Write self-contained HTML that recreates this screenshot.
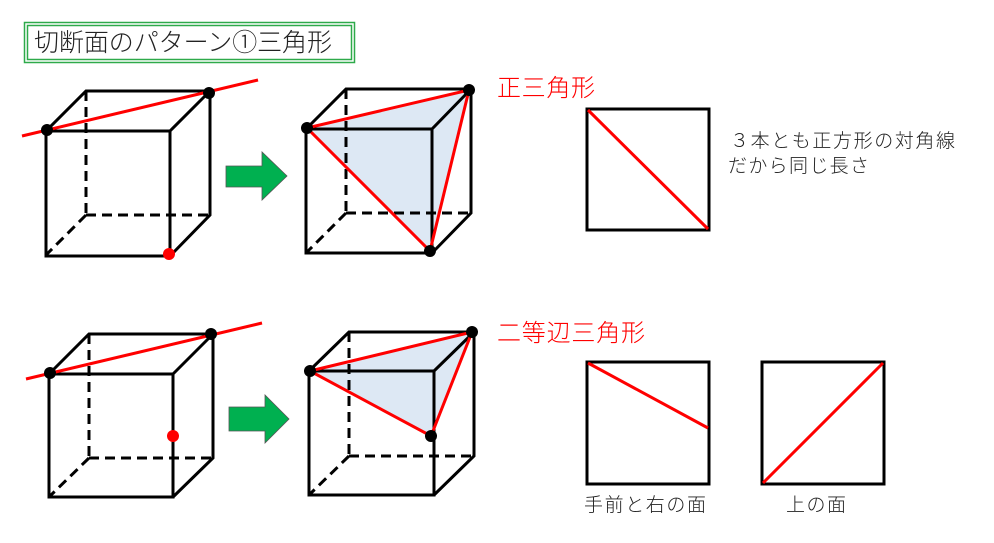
<!DOCTYPE html>
<html><head><meta charset="utf-8"><style>
html,body{margin:0;padding:0;background:#fff;}
svg{display:block;}
text{font-family:"Liberation Sans","Noto Sans CJK JP",sans-serif;font-weight:300;}
</style></head><body>
<svg width="994" height="543" viewBox="0 0 994 543" xmlns="http://www.w3.org/2000/svg">
<rect x="24.5" y="22.5" width="330" height="40" fill="none" stroke="#2eaa4a" stroke-width="1.5"/>
<rect x="27.5" y="25.5" width="324" height="34" fill="none" stroke="#2eaa4a" stroke-width="1.5"/>
<text x="34" y="51" font-size="25" fill="#222" textLength="298">切断面のパターン①三角形</text>

<polygon points="307,128 469,90 430,251" fill="#dde8f4"/>
<polygon points="310,371 472,332 431,436" fill="#dde8f4"/>
<g stroke="#000" stroke-width="3" fill="none">
<g>
<line x1="86" y1="91" x2="86" y2="215" stroke-dasharray="10,6"/>
<line x1="86" y1="215" x2="210" y2="215" stroke-dasharray="10,6"/>
<line x1="86" y1="215" x2="46" y2="255" stroke-dasharray="10,6"/>
<rect x="46" y="131" width="124" height="125"/>
<polyline points="46,131 86,91 210,91 210,215 170,256"/>
<line x1="170" y1="131" x2="210" y2="91"/>
</g>
<g>
<line x1="346" y1="89" x2="346" y2="213" stroke-dasharray="10,6"/>
<line x1="346" y1="213" x2="471" y2="213" stroke-dasharray="10,6"/>
<line x1="346" y1="213" x2="306" y2="253" stroke-dasharray="10,6"/>
<rect x="306" y="129" width="126" height="124"/>
<polyline points="306,129 346,89 471,89 471,213 432,253"/>
<line x1="432" y1="129" x2="471" y2="89"/>
</g>
<g>
<line x1="89" y1="334" x2="89" y2="458" stroke-dasharray="10,6"/>
<line x1="89" y1="458" x2="213" y2="458" stroke-dasharray="10,6"/>
<line x1="89" y1="458" x2="49" y2="497" stroke-dasharray="10,6"/>
<rect x="49" y="374" width="124" height="123"/>
<polyline points="49,374 89,334 213,334 213,458 173,497"/>
<line x1="173" y1="374" x2="213" y2="334"/>
</g>
<g>
<line x1="349" y1="332" x2="349" y2="456" stroke-dasharray="10,6"/>
<line x1="349" y1="456" x2="474" y2="456" stroke-dasharray="10,6"/>
<line x1="349" y1="456" x2="309" y2="495" stroke-dasharray="10,6"/>
<rect x="309" y="371" width="125" height="124"/>
<polyline points="309,371 349,332 474,332 474,456 434,495"/>
<line x1="434" y1="371" x2="474" y2="332"/>
</g>
<rect x="587" y="109" width="122" height="121"/>
<rect x="587" y="362" width="122" height="122"/>
<rect x="762" y="362" width="122" height="122"/>
</g>

<g stroke="#f00" stroke-width="3" fill="none">
<line x1="22" y1="136" x2="258" y2="80"/>
<polygon points="307,128 469,90 430,251"/>
<line x1="26" y1="379" x2="262" y2="323"/>
<polygon points="310,371 472,332 431,436"/>
<line x1="588" y1="110" x2="708" y2="229"/>
<line x1="588" y1="363" x2="708" y2="428"/>
<line x1="763" y1="483" x2="883" y2="363"/>
</g>

<g fill="#000">
<circle cx="47" cy="130" r="6"/><circle cx="209" cy="93" r="6"/>
<circle cx="307" cy="128" r="6"/><circle cx="469" cy="90" r="6"/><circle cx="430" cy="251" r="6"/>
<circle cx="50" cy="373" r="6"/><circle cx="211" cy="334" r="6"/>
<circle cx="310" cy="371" r="6"/><circle cx="472" cy="332" r="6"/><circle cx="431" cy="436" r="6"/>
</g>
<circle cx="169" cy="254" r="6" fill="#f00"/>
<circle cx="173" cy="436" r="6" fill="#f00"/>

<polygon points="226,166 262,166 262,152 287,176 262,200 262,187 226,187" fill="#00b050" stroke="#555" stroke-width="0.8"/>
<polygon points="229,407 265,407 265,395 289,419 265,443 265,431 229,431" fill="#00b050" stroke="#555" stroke-width="0.8"/>

<text x="497" y="96" font-size="24" fill="#f00" textLength="98">正三角形</text>
<text x="497" y="341" font-size="24" fill="#f00" textLength="148">二等辺三角形</text>
<text x="730" y="147" font-size="19" fill="#222" textLength="225">３本とも正方形の対角線</text>
<text x="728" y="172" font-size="19" fill="#222" textLength="141">だから同じ長さ</text>
<text x="584" y="511" font-size="19" fill="#222" textLength="122">手前と右の面</text>
<text x="786" y="511" font-size="19" fill="#222" textLength="60">上の面</text>
</svg>
</body></html>
